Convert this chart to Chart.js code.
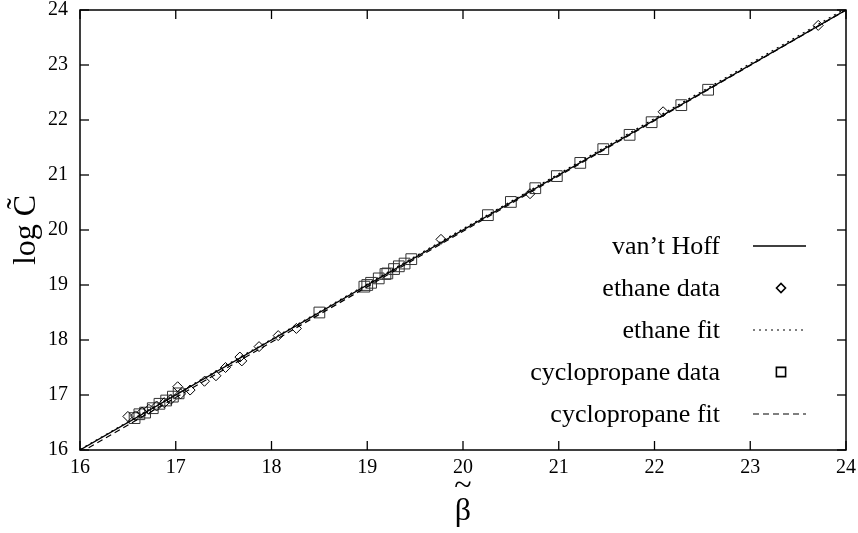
<!DOCTYPE html>
<html><head><meta charset="utf-8">
<script src="https://cdn.jsdelivr.net/npm/chart.js@4/dist/chart.umd.min.js"></script>
<style>html,body{margin:0;padding:0;background:#fff}#wrap{width:858px;height:533px}</style>
</head><body><div id="wrap"><canvas id="c" width="858" height="533"></canvas></div>
<script>
const xTickValues = [16, 17, 18, 19, 20, 21, 22, 23, 24];
const yTickValues = [16, 17, 18, 19, 20, 21, 22, 23, 24];

const ethaneBeta = [16.50, 16.58, 16.65, 16.72, 16.80, 16.88, 16.95, 17.02, 17.05, 17.15, 17.30, 17.42, 17.52, 17.67, 17.69, 17.87, 18.07, 18.26, 19.77, 20.70, 22.09, 23.71];
const ethaneLogC = [16.61, 16.62, 16.69, 16.74, 16.80, 16.86, 16.92, 17.15, 17.02, 17.09, 17.25, 17.35, 17.50, 17.69, 17.62, 17.88, 18.08, 18.21, 19.83, 20.66, 22.15, 23.72];

const cycloBeta = [16.57, 16.62, 16.68, 16.76, 16.83, 16.90, 16.97, 17.03, 18.50, 18.97, 19.00, 19.04, 19.12, 19.19, 19.21, 19.28, 19.33, 19.39, 19.46, 20.26, 20.50, 20.755, 20.98, 21.225, 21.465, 21.74, 21.97, 22.28, 22.56];
const cycloLogC = [16.58, 16.65, 16.68, 16.76, 16.84, 16.90, 16.97, 17.03, 18.50, 18.97, 19.00, 19.04, 19.12, 19.20, 19.21, 19.29, 19.34, 19.39, 19.47, 20.27, 20.51, 20.76, 20.98, 21.22, 21.47, 21.73, 21.96, 22.27, 22.55];

const vantHoffBeta = [16, 24];
const vantHoffLogC = [16, 24];
const ethaneFitBeta = [16, 24];
const ethaneFitLogC = [16.01, 24.03];
const cycloFitBeta = [16, 24];
const cycloFitLogC = [15.95, 24.0];

const legendLabels = ["van\u2019t Hoff", "ethane data", "ethane fit", "cyclopropane data", "cyclopropane fit"];

const pts = (xs, ys) => xs.map((v, i) => ({x: v, y: ys[i]}));

const serif = "'Liberation Serif', 'DejaVu Serif', serif";

const datasets = [
  {label: legendLabels[0], data: pts(vantHoffBeta, vantHoffLogC), showLine: true, borderColor: '#000', borderWidth: 1.3, pointRadius: 0},
  {label: legendLabels[2], data: pts(ethaneFitBeta, ethaneFitLogC), showLine: true, borderColor: '#000', borderWidth: 1.2, borderDash: [2, 4], pointRadius: 0},
  {label: legendLabels[4], data: pts(cycloFitBeta, cycloFitLogC), showLine: true, borderColor: '#000', borderWidth: 1.2, borderDash: [6, 4], pointRadius: 0},
  {label: legendLabels[1], data: pts(ethaneBeta, ethaneLogC), showLine: false, pointStyle: 'rectRot', pointRadius: 5, borderColor: '#000', borderWidth: 1, backgroundColor: 'rgba(0,0,0,0)'},
  {label: legendLabels[3], data: pts(cycloBeta, cycloLogC), showLine: false, pointStyle: 'rect', pointRadius: 7.6, borderColor: '#333', borderWidth: 1, backgroundColor: 'rgba(0,0,0,0)'}
];

const frame = {
  id: 'frame',
  afterDraw(chart) {
    const {ctx, chartArea: a, scales: {x, y}} = chart;
    ctx.save();
    ctx.strokeStyle = '#000';
    ctx.lineWidth = 1.5;
    ctx.strokeRect(a.left, a.top, a.right - a.left, a.bottom - a.top);
    ctx.lineWidth = 1.3;
    const L = 9;
    const seg = (x1, y1, x2, y2) => { ctx.beginPath(); ctx.moveTo(x1, y1); ctx.lineTo(x2, y2); ctx.stroke(); };
    xTickValues.forEach(v => {
      const px = x.getPixelForValue(v);
      seg(px, a.bottom, px, a.bottom - L);
      seg(px, a.top, px, a.top + L);
    });
    yTickValues.forEach(v => {
      const py = y.getPixelForValue(v);
      seg(a.left, py, a.left + L, py);
      seg(a.right, py, a.right - L, py);
    });
    // legend
    const order = [0, 3, 1, 4, 2];
    ctx.font = "26px " + serif;
    ctx.textAlign = 'right';
    ctx.textBaseline = 'middle';
    order.forEach((di, i) => {
      const ds = chart.data.datasets[di];
      const ry = a.top + 236 + i * 42;
      ctx.fillStyle = '#000';
      ctx.fillText(ds.label, a.right - 126, ry + 1);
      ctx.save();
      ctx.strokeStyle = ds.borderColor;
      if (ds.showLine) {
        ctx.lineWidth = ds.borderWidth;
        ctx.setLineDash(ds.borderDash || []);
        seg(a.right - 93, ry, a.right - 40, ry);
      } else {
        ctx.lineWidth = 1.6;
        ctx.strokeStyle = '#000';
        ctx.fillStyle = 'rgba(255,255,255,0)';
        Chart.helpers.drawPoint(ctx, {pointStyle: ds.pointStyle, radius: ds.pointStyle === 'rect' ? 6.5 : 4.5, borderWidth: 1.6}, a.right - 65, ry);
      }
      ctx.restore();
    });
    ctx.restore();
  }
};

new Chart(document.getElementById('c'), {
  type: 'scatter',
  data: {datasets},
  options: {
    responsive: false,
    animation: false,
    devicePixelRatio: 1,
    layout: {padding: {top: 10, right: 12, left: 0, bottom: 0}},
    plugins: {legend: {display: false}, tooltip: {enabled: false}},
    scales: {
      x: {
        type: 'linear', min: 16, max: 24,
        afterFit: s => { s.height = 83; s.paddingLeft = 0; s.paddingRight = 0; },
        afterBuildTicks: s => { s.ticks = xTickValues.map(v => ({value: v})); },
        ticks: {color: '#000', font: {family: serif, size: 20}, padding: 6, maxRotation: 0},
        grid: {display: false, drawTicks: false},
        border: {display: false},
        title: {display: true, text: ['~', '\u03B2'], color: '#000', font: {family: serif, size: 32, lineHeight: 0.78}, padding: {top: 0, bottom: 8.5}}
      },
      y: {
        type: 'linear', min: 16, max: 24,
        afterFit: s => { s.width = 80; s.paddingTop = 0; s.paddingBottom = 0; },
        afterBuildTicks: s => { s.ticks = yTickValues.map(v => ({value: v})); },
        ticks: {color: '#000', font: {family: serif, size: 20}, padding: 12},
        grid: {display: false, drawTicks: false},
        border: {display: false},
        title: {display: true, text: 'log C\u0303', color: '#000', font: {family: serif, size: 32}, padding: {top: 7, bottom: 0}}
      }
    }
  },
  plugins: [frame]
});
</script>
</body></html>
